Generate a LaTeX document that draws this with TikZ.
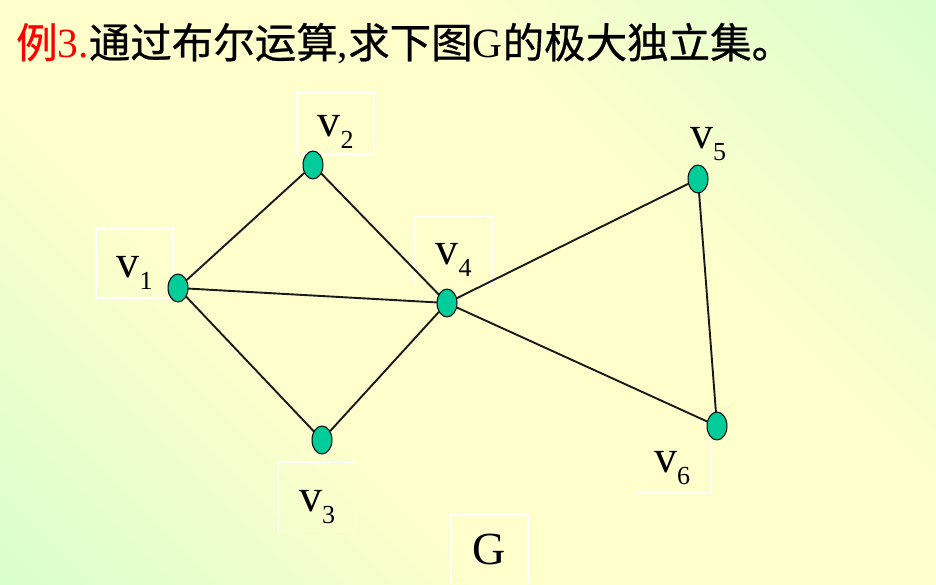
\documentclass[tikz,border=0pt]{standalone}
\usepackage{fontspec}
\setmainfont{Liberation Serif}
\newfontfamily\cjk[FakeBold=0.6]{Noto Sans CJK SC}
\usetikzlibrary{shapes.geometric}
\definecolor{bgGreen}{RGB}{216,255,204}
\definecolor{bgYellow}{RGB}{255,255,204}
\definecolor{vfill}{RGB}{0,204,153}
\definecolor{edgecol}{RGB}{25,25,25}
\pgfdeclareverticalshading{bgshade}{100bp}{color(0bp)=(bgGreen); color(14.6bp)=(bgGreen); color(38bp)=(bgYellow); color(62bp)=(bgYellow); color(85.4bp)=(bgGreen); color(100bp)=(bgGreen)}
\newcommand{\vsub}[1]{v\raisebox{-12pt}{\fontsize{26}{26}\selectfont #1}}

\begin{document}
\begin{tikzpicture}[line cap=round,line join=round,x=1pt,y=-1pt,
    vert/.style={ellipse,draw=black,line width=1pt,fill=vfill,minimum width=20pt,minimum height=28pt,inner sep=0pt},
    edge/.style={draw=edgecol,line width=1.9pt},
    lbox/.style={draw=white,line width=1.3pt,minimum width=77pt,minimum height=69pt,text height=32pt,text depth=4pt,inner sep=0pt,font=\fontsize{46}{46}\selectfont}]
      \useasboundingbox (0,0) rectangle (936,585);
      \shade[shading=bgshade,shading angle=-45] (0,0) rectangle (936,585);
      \node[anchor=base west,inner sep=0pt,font=\fontsize{41.5}{41.5}\selectfont] (title) at (16,58)
        {{\color{red}{\cjk 例}3.}{\cjk 通过布尔运算},{\cjk 求下图}G{\cjk 的极大独立集。}};
      % labels
      \node[lbox] (l1) at (134.5,263.5) {\vsub{1}};
      \node[lbox,minimum height=62pt] (l2) at (335.5,123) {\vsub{2}};
      \node[lbox] (l3) at (317,497) {\vsub{3}};
      \node[lbox] (l4) at (453.5,251) {\vsub{4}};
      \node[lbox,draw=none] (l5) at (708,135) {\vsub{5}};
      \node[lbox] (l6) at (672,458) {\vsub{6}};
      \node[lbox,text depth=2pt] (g) at (489.5,549) {G};
      % vertices
      \node[vert] (v1) at (178,288) {};
      \node[vert] (v2) at (313,165) {};
      \node[vert] (v3) at (322,440) {};
      \node[vert] (v4) at (447,303) {};
      \node[vert] (v5) at (698,179) {};
      \node[vert] (v6) at (717,426) {};
      \foreach \a/\b in {1/2,1/3,1/4,2/4,3/4,4/5,4/6,5/6}
      \draw[edge] (v\a) -- (v\b);
\end{tikzpicture}
\end{document}
